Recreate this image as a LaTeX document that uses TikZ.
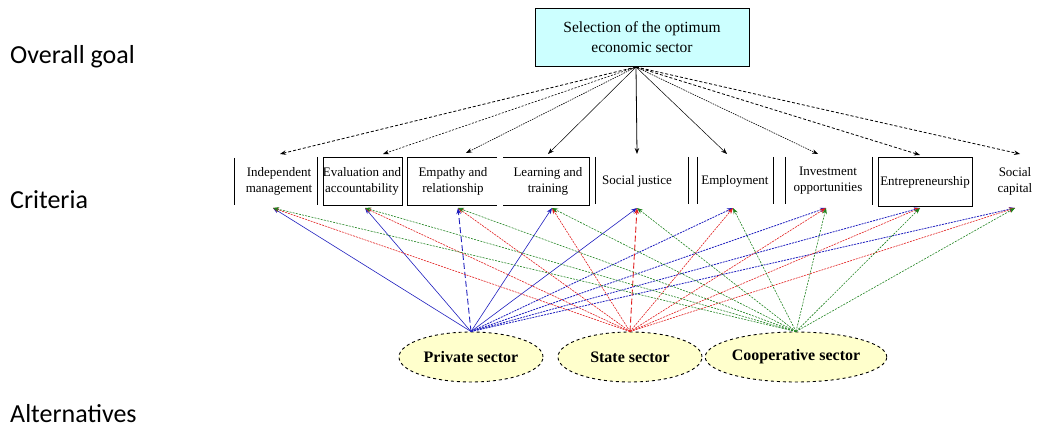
\documentclass[tikz,border=0pt]{standalone}
\usepackage{fontspec}
\setmainfont{Liberation Serif}
\newfontfamily\calib{Carlito}
\usetikzlibrary{arrows.meta,shapes.geometric}
\definecolor{goalfill}{RGB}{204,255,255}
\definecolor{altfill}{RGB}{255,255,204}
\definecolor{cblue}{RGB}{30,30,190}
\definecolor{cred}{RGB}{225,30,30}
\definecolor{cgreen}{RGB}{30,130,30}
\tikzset{
  side/.style={font=\calib\fontsize{26}{30}\selectfont, anchor=west, inner sep=0},
  crit/.style={font=\fontsize{13}{16}\selectfont, align=center, inner sep=0},
  frame/.style={line width=0.9pt, black},
  tip/.style={-{Stealth[length=6pt,width=4.5pt]}},
  alt/.style={ellipse, draw, dashed, line width=0.9pt, fill=altfill, minimum width=144pt, minimum height=50pt, inner sep=0, font=\bfseries\fontsize{16}{18}\selectfont},
  ga/.style={tip, black, line width=0.6pt},
  bl/.style={tip, cblue, line width=0.6pt},
  rd/.style={tip, cred, line width=0.6pt, dash pattern=on 2pt off 1pt},
  gr/.style={tip, cgreen, line width=0.6pt, dash pattern=on 2pt off 1.2pt},
}
\begin{document}
\begin{tikzpicture}[x=1pt,y=-1pt]
\useasboundingbox (0,0) rectangle (1040,430);
% side labels
\node[side] (lg) at (10,57) {Overall goal};
\node[side] (lc) at (10,200) {Criteria};
\node[side] (la) at (10,414) {Alternatives};
% goal
\node[draw, line width=0.9pt, fill=goalfill, minimum width=214pt, minimum height=58pt, inner sep=0, align=center, font=\fontsize{15.5}{20}\selectfont] (goal) at (642,37) {Selection of the optimum\\ economic sector};
% criteria texts
\node[crit] (c1) at (279,181) {Independent\\ management};
\node[crit] (c2) at (362,181) {Evaluation and\\ accountability};
\node[crit] (c3) at (453,181) {Empathy and\\ relationship};
\node[crit] (c4) at (548,181) {Learning and\\ training};
\node[crit] (c5) at (637,181) {Social justice};
\node[crit] (c6) at (735,181) {Employment};
\node[crit] (c7) at (828,181) {Investment\\ opportunities};
\node[crit] (c8) at (925,182) {Entrepreneurship};
\node[crit] (c9) at (1015,181) {Social\\ capital};
% criteria frames
\draw[frame] (234,158) -- (234,205);
\draw[frame] (317,157) -- (317,205);
\draw[frame] (323,157) rectangle (402,205);
\draw[frame] (497,157) -- (407,157) -- (407,205) -- (497,205);
\draw[frame] (503,157) -- (589,157) -- (589,205) -- (503,205);
\draw[frame] (595,157) -- (595,204);
\draw[frame] (688,157) -- (688,204);
\draw[frame] (697,157) -- (697,204);
\draw[frame] (773,157) -- (773,204);
\draw[frame] (785,157) -- (785,204);
\draw[frame] (872,157) -- (872,205);
\draw[frame] (878,157) rectangle (972,206);
% top / bottom end points
\coordinate (t1) at (280,154); \coordinate (b1) at (273,208);
\coordinate (t2) at (383,154); \coordinate (b2) at (365,208);
\coordinate (t3) at (466,153); \coordinate (b3) at (458,208);
\coordinate (t4) at (548,154); \coordinate (b4) at (552,208);
\coordinate (t5) at (637,154); \coordinate (b5) at (637,208);
\coordinate (t6) at (727,154); \coordinate (b6) at (733,208);
\coordinate (t7) at (818,154); \coordinate (b7) at (826,208);
\coordinate (t8) at (920,155); \coordinate (b8) at (920,208);
\coordinate (t9) at (1020,154); \coordinate (b9) at (1015,208);
\coordinate (apex) at (636,67);
% goal arrows
\draw[ga, dash pattern=on 3pt off 2pt, line width=0.8pt] (apex) -- (t1);
\draw[ga, dash pattern=on 2pt off 1.5pt] (apex) -- (t2);
\draw[ga, dash pattern=on 1.5pt off 1pt] (apex) -- (t3);
\draw[ga, line width=0.5pt] (apex) -- (t4);
\draw[ga, line width=0.8pt] (apex) -- (t5);
\draw[ga, line width=0.5pt] (apex) -- (t6);
\draw[ga, dash pattern=on 1.5pt off 1pt] (apex) -- (t7);
\draw[ga, dash pattern=on 3pt off 2pt, line width=0.8pt] (apex) -- (t8);
\draw[ga, dash pattern=on 3pt off 2pt, line width=0.8pt] (apex) -- (t9);
% alternatives
\node[alt] (pr) at (471,357) {Private sector};
\node[alt] (st) at (630,357) {State sector};
\node[alt] (co) at (796,357) {Cooperative sector};
% private (blue)
\draw[bl] (pr.north) -- (b1);
\draw[bl] (pr.north) -- (b2);
\draw[bl, dash pattern=on 6pt off 3pt, line width=0.9pt] (pr.north) -- (b3);
\draw[bl] (pr.north) -- (b4);
\draw[bl] (pr.north) -- (b5);
\draw[bl, dash pattern=on 2pt off 1pt, line width=0.8pt] (pr.north) -- (b6);
\draw[bl, dash pattern=on 2pt off 1pt, line width=0.8pt] (pr.north) -- (b7);
\draw[bl, dash pattern=on 2pt off 1pt, line width=0.8pt] (pr.north) -- (b8);
\draw[bl, dash pattern=on 2pt off 1pt, line width=0.8pt] (pr.north) -- (b9);
% state (red)
\draw[rd] (st.north) -- (b1);
\draw[rd] (st.north) -- (b2);
\draw[rd] (st.north) -- (b3);
\draw[rd] (st.north) -- (b4);
\draw[rd, dash pattern=on 6pt off 3pt, line width=0.9pt] (st.north) -- (b5);
\draw[rd] (st.north) -- (b6);
\draw[rd] (st.north) -- (b7);
\draw[rd] (st.north) -- (b8);
\draw[rd] (st.north) -- (b9);
% cooperative (green)
\draw[gr] (co.north) -- (b1);
\draw[gr] (co.north) -- (b2);
\draw[gr] (co.north) -- (b3);
\draw[gr] (co.north) -- (b4);
\draw[gr] (co.north) -- (b5);
\draw[gr] (co.north) -- (b6);
\draw[gr] (co.north) -- (b7);
\draw[gr] (co.north) -- (b8);
\draw[gr] (co.north) -- (b9);
\end{tikzpicture}
\end{document}
